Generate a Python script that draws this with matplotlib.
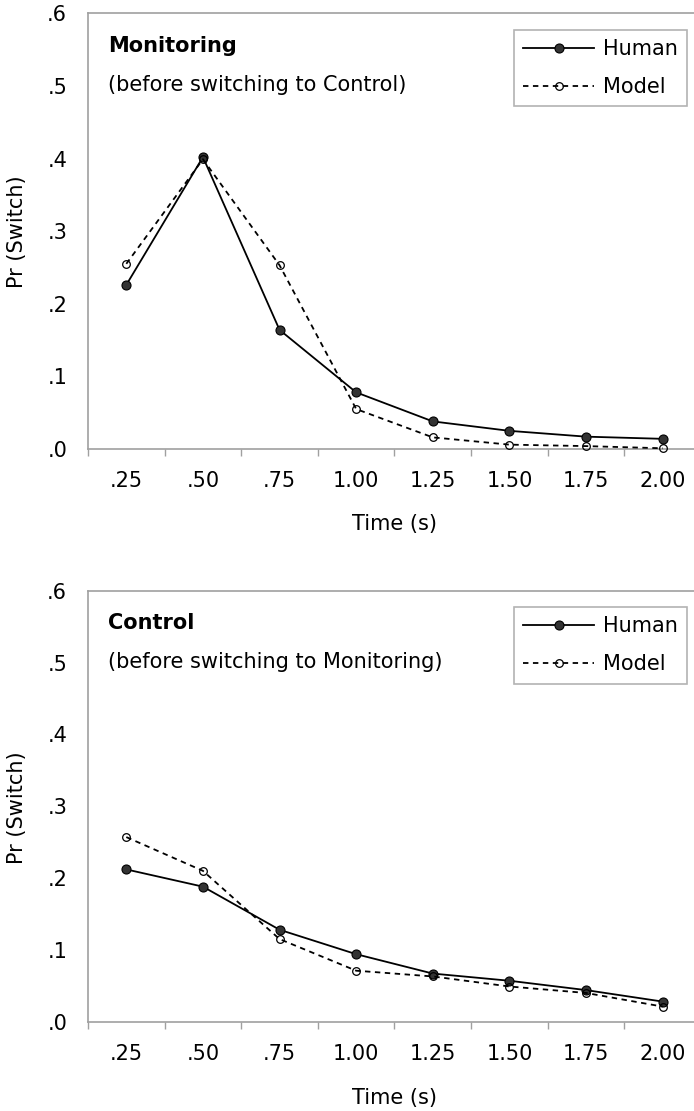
import matplotlib
matplotlib.use("Agg")
import matplotlib.pyplot as plt

# data
times = ['.25', '.50', '.75', '1.00', '1.25', '1.50', '1.75', '2.00']
mon_human = [0.226, 0.402, 0.164, 0.078, 0.038, 0.025, 0.017, 0.014]
mon_model = [0.255, 0.399, 0.253, 0.055, 0.016, 0.006, 0.004, 0.001]
ctl_human = [0.212, 0.188, 0.128, 0.094, 0.067, 0.057, 0.044, 0.028]
ctl_model = [0.257, 0.210, 0.115, 0.071, 0.063, 0.049, 0.040, 0.021]
yticks = [0.0, 0.1, 0.2, 0.3, 0.4, 0.5, 0.6]
ytick_labels = ['.0', '.1', '.2', '.3', '.4', '.5', '.6']

plt.rcParams['font.family'] = ['DejaVu Sans']
FS = 15
GRAY = '#a0a0a0'

W, H = 694, 1111
fig = plt.figure(figsize=(W / 100, H / 100), dpi=100)


def panel(rect, human, model, title, subtitle, label_y, xlabel_y):
    ax = fig.add_axes(rect)
    x = list(range(len(times)))
    ax.plot(x, human, color='black', lw=1.3, marker='o', ms=6.5,
            mfc='#333333', mec='black', mew=0.8, label='Human', clip_on=False, zorder=3)
    ax.plot(x, model, color='black', lw=1.3, ls=(0, (3, 2.5)), marker='o', ms=5.5,
            mfc='none', mec='black', mew=0.9, label='Model', clip_on=False, zorder=3)
    ax.set_xlim(-0.5, len(times) - 0.5)
    ax.set_ylim(0, 0.6)
    ax.set_xticks(x)
    ax.set_xticklabels(times, fontsize=FS)
    ax.set_xticks([i - 0.5 for i in range(len(times) + 1)], minor=True)
    ax.tick_params(axis='x', which='major', length=0, pad=16)
    ax.tick_params(axis='x', which='minor', length=5, color=GRAY, width=1, direction='out')
    ax.set_yticks(yticks)
    ax.set_yticklabels(ytick_labels, fontsize=FS)
    ax.tick_params(axis='y', length=0, pad=15)
    for s in ['left', 'top', 'bottom']:
        ax.spines[s].set_color(GRAY)
        ax.spines[s].set_linewidth(1.2)
    ax.spines['right'].set_visible(False)
    ax.text(0.033, 0.925, title, transform=ax.transAxes, fontsize=FS,
            fontweight='bold', va='center', ha='left')
    ax.text(0.033, 0.835, subtitle, transform=ax.transAxes, fontsize=FS,
            va='center', ha='left')
    leg = ax.legend(loc='upper right', bbox_to_anchor=(0.977, 0.962), borderaxespad=0,
                    fontsize=FS, fancybox=False, handlelength=3.4, handletextpad=0.4,
                    borderpad=0.45, labelspacing=0.85)
    leg.get_frame().set_edgecolor(GRAY)
    leg.get_frame().set_linewidth(1.2)
    fig.text(17 / W, 1 - label_y / H, 'Pr (Switch)', rotation=90, fontsize=FS,
             ha='center', va='center')
    fig.text(394 / W, 1 - xlabel_y / H, 'Time (s)', fontsize=FS, ha='center', va='center')
    return ax


panel([88 / W, 1 - 449 / H, 613 / W, 435.7 / H], mon_human, mon_model,
      'Monitoring', '(before switching to Control)', 232, 524)
panel([88 / W, 1 - 1021.7 / H, 613 / W, 431 / H], ctl_human, ctl_model,
      'Control', '(before switching to Monitoring)', 808, 1098)

fig.savefig('out.png', dpi=100)
